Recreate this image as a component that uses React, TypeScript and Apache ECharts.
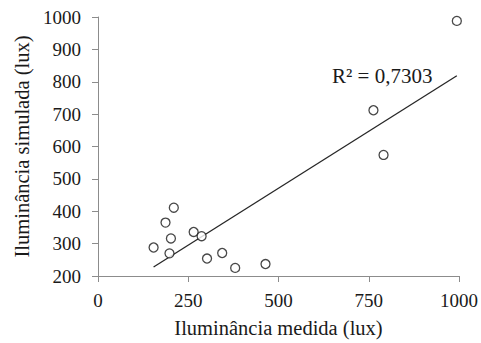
import React, { useEffect, useRef } from "react";
import * as echarts from "echarts";

const measured: number[] = [154, 198, 202, 187, 210, 265, 287, 302, 344, 380, 464, 763, 791, 994];
const simulated: number[] = [288, 270, 316, 365, 411, 336, 323, 254, 271, 225, 237, 712, 574, 988];
const r2Label = "R² = 0,7303";
const xTitle = "Iluminância medida (lux)";
const yTitle = "Iluminância simulada (lux)";

function regression(xs: number[], ys: number[]) {
  const n = xs.length;
  const mx = xs.reduce((a, b) => a + b, 0) / n;
  const my = ys.reduce((a, b) => a + b, 0) / n;
  let sxy = 0, sxx = 0;
  for (let i = 0; i < n; i++) {
    sxy += (xs[i] - mx) * (ys[i] - my);
    sxx += (xs[i] - mx) * (xs[i] - mx);
  }
  const slope = sxy / sxx;
  return { slope, intercept: my - slope * mx };
}

export default function App() {
  const ref = useRef<HTMLDivElement>(null);
  useEffect(() => {
    if (!ref.current) return;
    const chart = echarts.init(ref.current, undefined, { renderer: "svg" });
    const font = "Liberation Serif";
    const { slope, intercept } = regression(measured, simulated);
    const xMin = Math.min(...measured);
    const xMax = Math.max(...measured);
    const trend = [
      [xMin, intercept + slope * xMin],
      [xMax, intercept + slope * xMax],
    ];
    const axisLine = { show: true, lineStyle: { color: "#8c8c8c", width: 1 } };
    chart.setOption({
      animation: false,
      backgroundColor: "#ffffff",
      textStyle: { fontFamily: font },
      grid: { left: 98, right: 22, top: 17, bottom: 66 },
      xAxis: {
        type: "value",
        min: 0,
        max: 1000,
        interval: 250,
        name: xTitle,
        nameLocation: "middle",
        nameGap: 41,
        nameTextStyle: { fontFamily: font, fontSize: 20.5, color: "#1a1a1a" },
        axisLine,
        axisTick: { show: true, length: 6, lineStyle: { color: "#8c8c8c" } },
        splitLine: { show: false },
        axisLabel: {
          fontFamily: font,
          fontSize: 19,
          color: "#1a1a1a",
          margin: 15,
          formatter: (v: number) => String(v),
        },
      },
      yAxis: {
        type: "value",
        min: 200,
        max: 1000,
        interval: 100,
        name: yTitle,
        nameLocation: "middle",
        nameGap: 66,
        nameTextStyle: { fontFamily: font, fontSize: 20.5, color: "#1a1a1a" },
        axisLine,
        axisTick: { show: true, length: 6, lineStyle: { color: "#8c8c8c" } },
        splitLine: { show: false },
        axisLabel: {
          fontFamily: font,
          fontSize: 19,
          color: "#1a1a1a",
          margin: 17,
          formatter: (v: number) => String(v),
        },
      },
      graphic: [
        {
          type: "text",
          left: 332,
          top: 65,
          style: { text: r2Label, fontFamily: font, fontSize: 21, fill: "#1a1a1a" },
        },
      ],
      series: [
        {
          type: "line",
          data: trend,
          symbol: "none",
          lineStyle: { color: "#262626", width: 1.3 },
          z: 1,
        },
        {
          type: "scatter",
          data: measured.map((x, i) => [x, simulated[i]]),
          symbol: "circle",
          symbolSize: 9,
          itemStyle: { color: "#ffffff", borderColor: "#1a1a1a", borderWidth: 1.3 },
          z: 2,
        },
      ],
    });
    return () => chart.dispose();
  }, []);
  return (
    <div
      ref={ref}
      style={{ position: "absolute", left: 0, top: 0, width: 481, height: 343 }}
    />
  );
}
